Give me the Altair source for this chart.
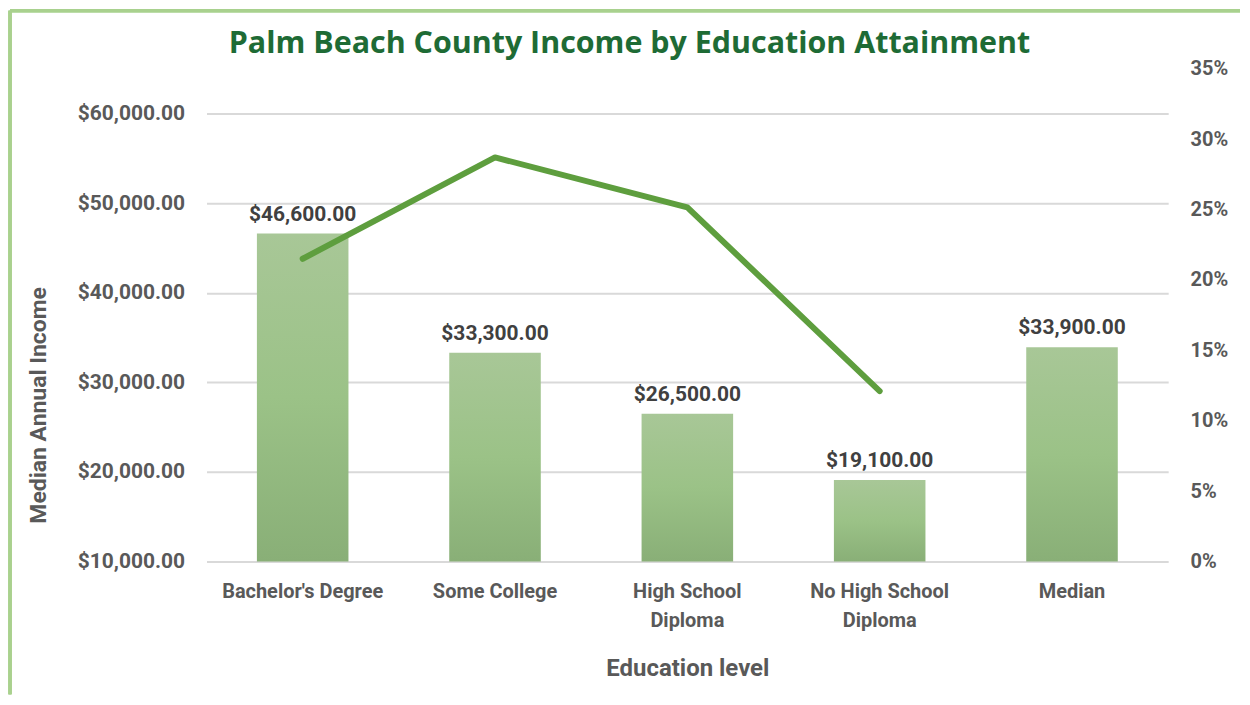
import altair as alt
import pandas as pd

categories = ["Bachelor's Degree", "Some College", "High School Diploma",
              "No High School Diploma", "Median"]
median_income = [46600, 33300, 26500, 19100, 33900]
share = [0.215, 0.287, 0.2515, 0.121, None]

income_ticks = [10000, 20000, 30000, 40000, 50000, 60000]
share_ticks = [0, 0.05, 0.10, 0.15, 0.20, 0.25, 0.30, 0.35]

df = pd.DataFrame({"level": categories, "income": median_income, "share": share})

W, H = 964, 494
LABEL_GRAY = "#595959"
FONT = "Roboto"

label_expr = ("datum.value == 'High School Diploma' ? ['High School', 'Diploma'] : "
              "datum.value == 'No High School Diploma' ? ['No High School', 'Diploma'] : datum.value")

x_enc = alt.X(
    "level:N", sort=categories, title="Education level",
    scale=alt.Scale(paddingInner=0.524, paddingOuter=0.262),
    axis=alt.Axis(labelAngle=0, labelExpr=label_expr, domain=False, ticks=False,
                  labelPadding=20, labelFont=FONT, labelFontSize=20, labelFontWeight="bold",
                  labelColor=LABEL_GRAY, labelLineHeight=29,
                  titleFont=FONT, titleFontSize=24, titleFontWeight="bold",
                  titleColor=LABEL_GRAY, titlePadding=26),
)

income_scale = alt.Scale(domain=[10000, 65000], nice=False, zero=False)
y_income = alt.Y(
    "income:Q",
    scale=income_scale,
    axis=alt.Axis(values=income_ticks, format="$,.2f", grid=True, gridColor="#D9D9D9",
                  gridWidth=2, domain=False, ticks=False, labelPadding=22,
                  labelFont=FONT, labelFontSize=21, labelFontWeight="bold",
                  labelColor=LABEL_GRAY, title="Median Annual Income",
                  titleFont=FONT, titleFontSize=23, titleFontWeight="bold",
                  titleColor=LABEL_GRAY, titleX=-168, titleY=337,
                  titleAlign="center", titleBaseline="middle", titleAngle=270),
)

gradient = alt.LinearGradient(
    gradient="linear", x1=0, x2=0, y1=0, y2=1,
    stops=[alt.GradientStop(color="#A8C797", offset=0),
           alt.GradientStop(color="#9BC287", offset=0.5),
           alt.GradientStop(color="#89AF77", offset=1)],
)

bars = alt.Chart(df).mark_bar(color=gradient).encode(
    x=x_enc, y=y_income, y2=alt.datum(10000)
)

labels = alt.Chart(df).mark_text(
    baseline="bottom", dy=-9, font=FONT, fontSize=21, fontWeight="bold", color="#404040"
).encode(x=x_enc, y=y_income, text=alt.Text("income:Q", format="$,.2f"))

left = alt.layer(bars, labels)

line = alt.Chart(df).mark_line(
    color="#5E9E3E", strokeWidth=6, strokeCap="round", strokeJoin="round"
).encode(
    x=x_enc,
    y=alt.Y("share:Q", scale=alt.Scale(domain=[0, 0.35], nice=False),
            axis=alt.Axis(orient="right", values=share_ticks, format=".0%", grid=False,
                          domain=False, ticks=False, labelPadding=22,
                          labelFont=FONT, labelFontSize=20, labelFontWeight="bold",
                          labelColor=LABEL_GRAY, title=None)),
)

border_color = "#A9D18E"
top_border = alt.Chart(df).mark_rule(color=border_color, strokeWidth=3).encode(
    x=alt.value(-197), x2=alt.value(1036), y=alt.value(-58)
)
left_border = alt.Chart(df).mark_rule(color=border_color, strokeWidth=3).encode(
    x=alt.value(-197), y=alt.value(-58), y2=alt.value(627)
)

chart = alt.layer(left, line, top_border, left_border).resolve_scale(y="independent").properties(
    width=W, height=H,
    padding={"left": 0, "top": 0, "right": 0, "bottom": 0},
    title=alt.TitleParams(
        "Palm Beach County Income by Education Attainment",
        font="Open Sans", fontSize=30.5, fontWeight="bold", color="#1E6B35",
        anchor="middle", frame="group", dx=-58, dy=62, offset=12,
    ),
).configure_view(strokeWidth=0, stroke="transparent")

chart.save("out.html", embed_options={"renderer": "svg", "actions": False})
